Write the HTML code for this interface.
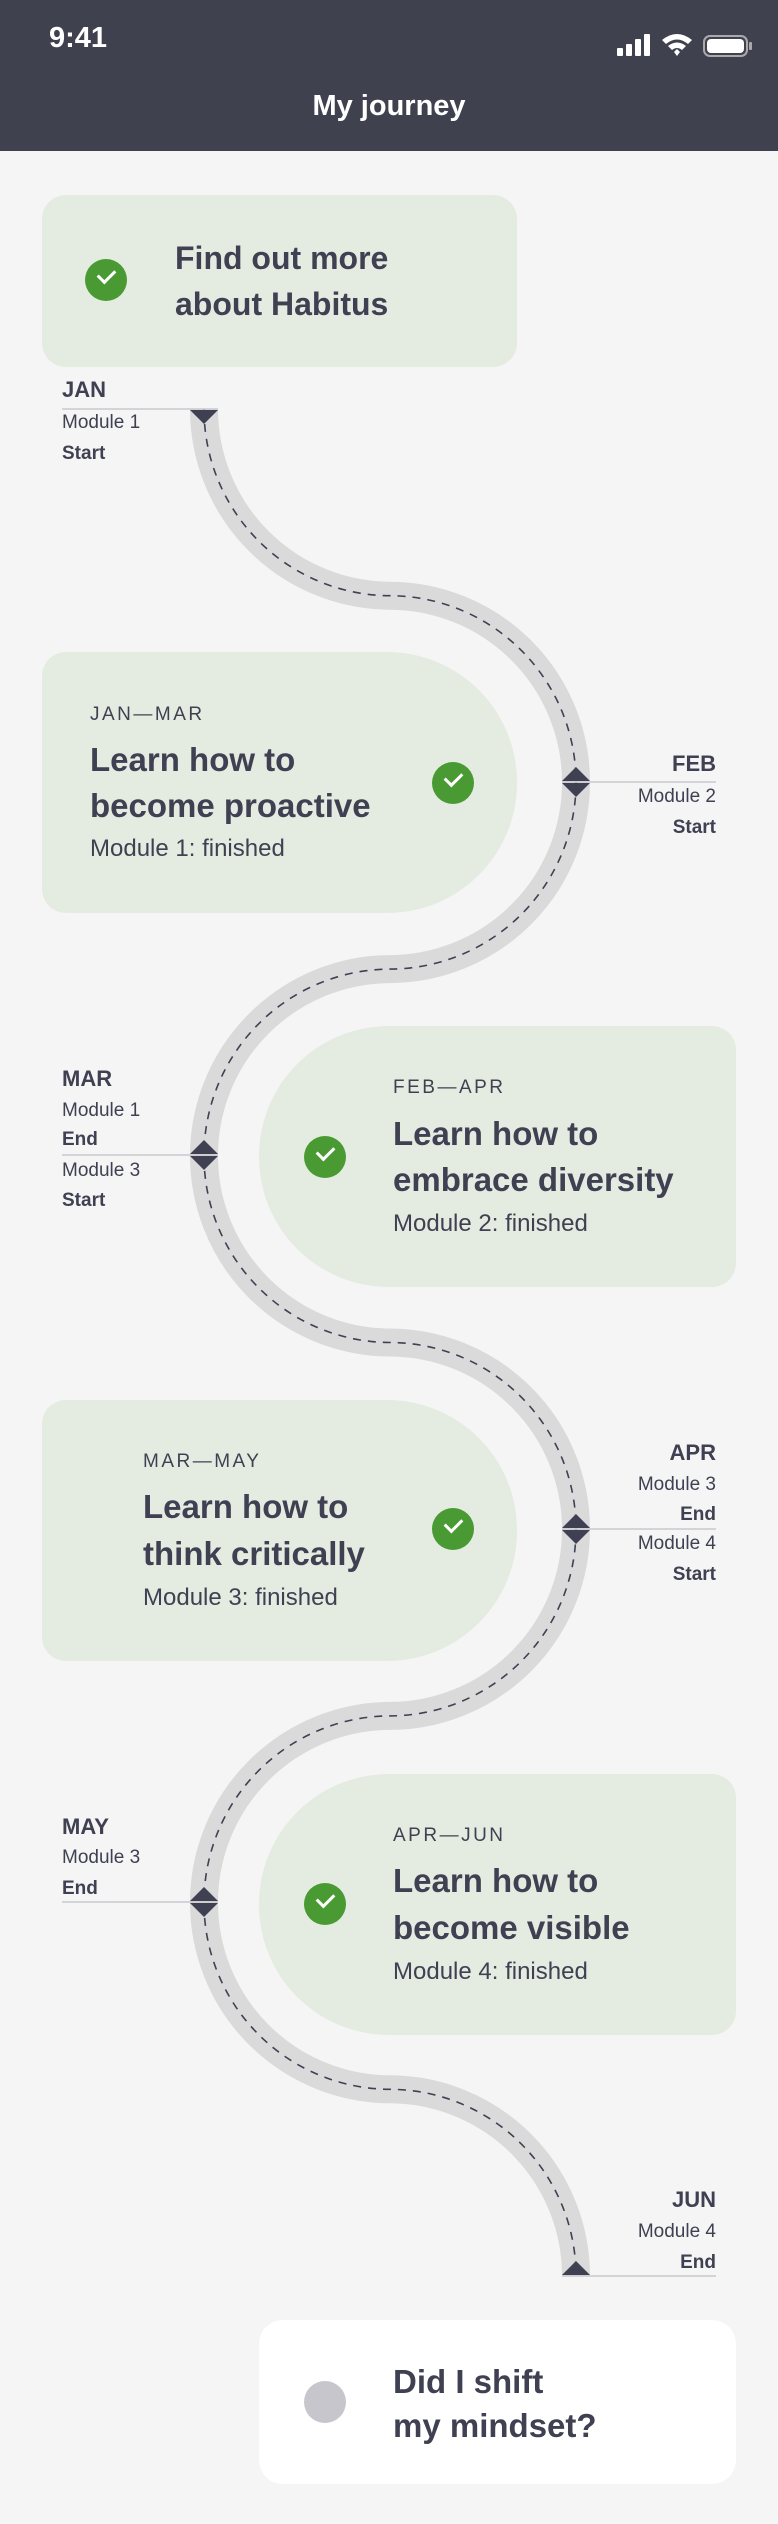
<!DOCTYPE html>
<html><head><meta charset="utf-8"><style>
*{margin:0;padding:0;box-sizing:border-box}
body{width:778px;height:2524px;background:#f5f5f5;position:relative;overflow:hidden;font-family:"Liberation Sans",sans-serif;color:#3f4152}
.hdr{position:absolute;left:0;top:0;width:778px;height:151px;background:#40414f}
.t{position:absolute;white-space:nowrap;line-height:1}
.card{position:absolute;background:#e4ece1}
.chk{position:absolute;width:42px;height:42px;border-radius:50%;background:#4a9a34}
.chk:after{content:"";position:absolute;left:13px;top:10px;width:14px;height:8px;border-left:3.5px solid #fff;border-bottom:3.5px solid #fff;transform:rotate(-45deg)}
.tag{font-size:19px;letter-spacing:2.5px}
.ti{font-size:33px;font-weight:bold}
.sub{font-size:24px}
.mo{font-size:22px;font-weight:bold}
.md{font-size:19px}
.ms{font-size:19px;font-weight:bold}
.r{text-align:right}
</style></head><body>
<div class="hdr"></div>
<div class="t" style="left:49px;top:24px;font-size:29px;font-weight:bold;color:#fff">9:41</div>
<div class="t" style="left:0;width:778px;text-align:center;top:92px;font-size:29px;font-weight:bold;color:#fff">My journey</div>
<svg style="position:absolute;left:0;top:0" width="778" height="151">
<g fill="#fff"><rect x="617" y="48" width="6" height="8" rx="1"/><rect x="626" y="44" width="6" height="12" rx="1"/><rect x="635" y="39" width="6" height="17" rx="1"/><rect x="644" y="34" width="6" height="22" rx="1"/>
<path d="M662 40 Q677 28 692 40 L688 44 Q677 35 666 44Z"/><path d="M668 46 Q677 39 686 46 L682 50 Q677 46 672 50Z"/><path d="M674 52 L677 49 L680 52 L677 56Z"/>
<rect x="704" y="36" width="43" height="20" rx="6" fill="none" stroke="#aaa" stroke-width="2"/><rect x="707" y="39" width="37" height="14" rx="4"/><rect x="749" y="42" width="3" height="8" rx="1" fill="#aaa"/></g>
</svg>

<svg style="position:absolute;left:0;top:0" width="778" height="2524">
<path id="road" d="M204,409 A186.7,186.7 0 0 0 390,595.7 A186.7,186.7 0 0 1 576,782.4 A186.7,186.7 0 0 1 390,969.1 A186.7,186.7 0 0 0 204,1155.8 A186.7,186.7 0 0 0 390,1342.5 A186.7,186.7 0 0 1 576,1529.2 A186.7,186.7 0 0 1 390,1715.9 A186.7,186.7 0 0 0 204,1902.6 A186.7,186.7 0 0 0 390,2089.3 A186.7,186.7 0 0 1 576,2276" fill="none" stroke="#dadada" stroke-width="28"/>
<path d="M204,409 A186.7,186.7 0 0 0 390,595.7 A186.7,186.7 0 0 1 576,782.4 A186.7,186.7 0 0 1 390,969.1 A186.7,186.7 0 0 0 204,1155.8 A186.7,186.7 0 0 0 390,1342.5 A186.7,186.7 0 0 1 576,1529.2 A186.7,186.7 0 0 1 390,1715.9 A186.7,186.7 0 0 0 204,1902.6 A186.7,186.7 0 0 0 390,2089.3 A186.7,186.7 0 0 1 576,2276" fill="none" stroke="#3f4152" stroke-width="1.6" stroke-dasharray="8 7"/>
<g stroke="#c9c9ce" stroke-width="1.5">
<line x1="62" y1="409" x2="218" y2="409"/><line x1="562" y1="782" x2="716" y2="782"/>
<line x1="62" y1="1155" x2="218" y2="1155"/><line x1="562" y1="1529" x2="716" y2="1529"/>
<line x1="62" y1="1902" x2="218" y2="1902"/><line x1="562" y1="2276" x2="716" y2="2276"/></g>
<g fill="#3f4152">
<path d="M190,410 L218,410 L204,424Z"/>
<path d="M562,781 L590,781 L576,767Z M562,783 L590,783 L576,797Z"/>
<path d="M190,1154 L218,1154 L204,1140Z M190,1156 L218,1156 L204,1170Z"/>
<path d="M562,1528 L590,1528 L576,1514Z M562,1530 L590,1530 L576,1544Z"/>
<path d="M190,1901 L218,1901 L204,1887Z M190,1903 L218,1903 L204,1917Z"/>
<path d="M562,2275 L590,2275 L576,2261Z"/></g>
</svg>

<!-- labels -->
<div class="t mo" style="left:62px;top:379px">JAN</div>
<div class="t md" style="left:62px;top:413px">Module 1</div>
<div class="t ms" style="left:62px;top:444px">Start</div>

<div class="t mo r" style="right:62px;top:753px">FEB</div>
<div class="t md r" style="right:62px;top:787px">Module 2</div>
<div class="t ms r" style="right:62px;top:818px">Start</div>

<div class="t mo" style="left:62px;top:1068px">MAR</div>
<div class="t md" style="left:62px;top:1101px">Module 1</div>
<div class="t ms" style="left:62px;top:1130px">End</div>
<div class="t md" style="left:62px;top:1161px">Module 3</div>
<div class="t ms" style="left:62px;top:1191px">Start</div>

<div class="t mo r" style="right:62px;top:1442px">APR</div>
<div class="t md r" style="right:62px;top:1475px">Module 3</div>
<div class="t ms r" style="right:62px;top:1505px">End</div>
<div class="t md r" style="right:62px;top:1534px">Module 4</div>
<div class="t ms r" style="right:62px;top:1565px">Start</div>

<div class="t mo" style="left:62px;top:1816px">MAY</div>
<div class="t md" style="left:62px;top:1848px">Module 3</div>
<div class="t ms" style="left:62px;top:1879px">End</div>

<div class="t mo r" style="right:62px;top:2189px">JUN</div>
<div class="t md r" style="right:62px;top:2222px">Module 4</div>
<div class="t ms r" style="right:62px;top:2253px">End</div>

<!-- card 1 -->
<div class="card" style="left:42px;top:195px;width:475px;height:172px;border-radius:24px"></div>
<div class="chk" style="left:85px;top:259px"></div>
<div class="t ti" style="left:175px;top:242px;font-size:32px">Find out more</div>
<div class="t ti" style="left:175px;top:288px;font-size:32px">about Habitus</div>

<!-- card 2 -->
<div class="card" style="left:42px;top:652px;width:475px;height:261px;border-radius:24px 130px 130px 24px"></div>
<div class="t tag" style="left:90px;top:705px">JAN—MAR</div>
<div class="t ti" style="left:90px;top:743px">Learn how to</div>
<div class="t ti" style="left:90px;top:789px">become proactive</div>
<div class="t sub" style="left:90px;top:837px">Module 1: finished</div>
<div class="chk" style="left:432px;top:762px"></div>

<!-- card 3 -->
<div class="card" style="left:259px;top:1026px;width:477px;height:261px;border-radius:130px 24px 24px 130px"></div>
<div class="chk" style="left:304px;top:1136px"></div>
<div class="t tag" style="left:393px;top:1078px">FEB—APR</div>
<div class="t ti" style="left:393px;top:1117px">Learn how to</div>
<div class="t ti" style="left:393px;top:1163px">embrace diversity</div>
<div class="t sub" style="left:393px;top:1212px">Module 2: finished</div>

<!-- card 4 -->
<div class="card" style="left:42px;top:1400px;width:475px;height:261px;border-radius:24px 130px 130px 24px"></div>
<div class="t tag" style="left:143px;top:1452px">MAR—MAY</div>
<div class="t ti" style="left:143px;top:1490px">Learn how to</div>
<div class="t ti" style="left:143px;top:1537px">think critically</div>
<div class="t sub" style="left:143px;top:1586px">Module 3: finished</div>
<div class="chk" style="left:432px;top:1508px"></div>

<!-- card 5 -->
<div class="card" style="left:259px;top:1774px;width:477px;height:261px;border-radius:130px 24px 24px 130px"></div>
<div class="chk" style="left:304px;top:1883px"></div>
<div class="t tag" style="left:393px;top:1826px">APR—JUN</div>
<div class="t ti" style="left:393px;top:1864px">Learn how to</div>
<div class="t ti" style="left:393px;top:1911px">become visible</div>
<div class="t sub" style="left:393px;top:1960px">Module 4: finished</div>

<!-- card 6 -->
<div class="card" style="left:259px;top:2320px;width:477px;height:164px;border-radius:24px;background:#fff"></div>
<div style="position:absolute;left:304px;top:2381px;width:42px;height:42px;border-radius:50%;background:#c6c6cc"></div>
<div class="t ti" style="left:393px;top:2365px">Did I shift</div>
<div class="t ti" style="left:393px;top:2409px">my mindset?</div>
</body></html>
